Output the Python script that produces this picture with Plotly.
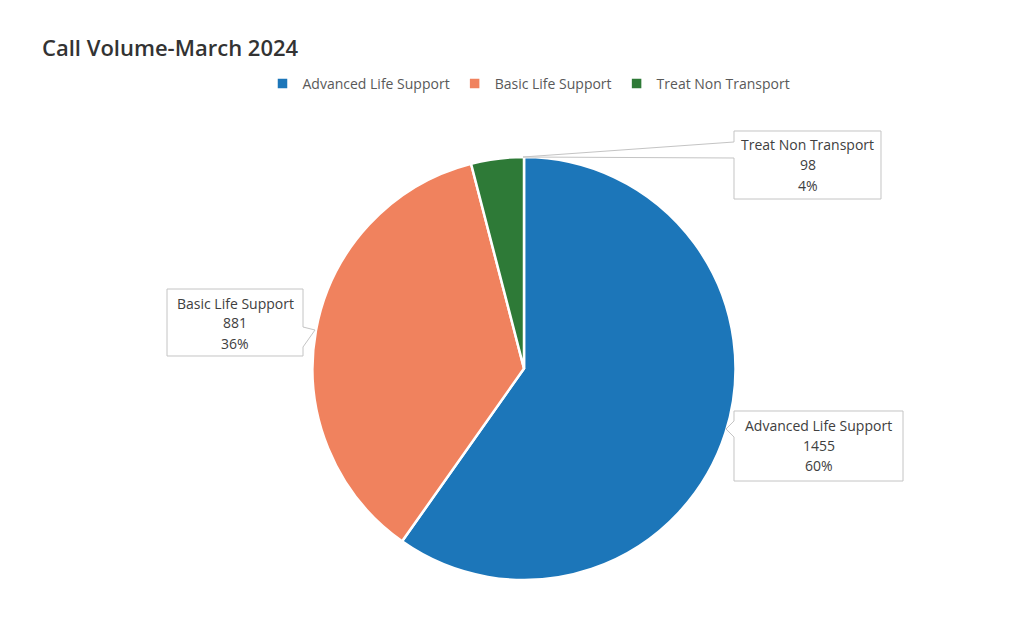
import plotly.graph_objects as go

W, H = 1031, 633
OX, OY = 8, 8  # page body margin in the browser

categories = ["Advanced Life Support", "Basic Life Support", "Treat Non Transport"]
values = [1455, 881, 98]
colors = ["#1c76b9", "#f0825e", "#2e7a37"]

title_text = "Call Volume-March 2024"

# Callout box geometry in pixels (layout only): box x0, y0, x1, y1, pointer polygon
callouts = {
    "Treat Non Transport": dict(box=(734, 131, 881, 199), ptr=[(734, 142), (523, 157), (734, 158)], side="left"),
    "Basic Life Support": dict(box=(167, 289, 303, 356), ptr=[(303, 327), (315, 330), (303, 347)], side="right"),
    "Advanced Life Support": dict(box=(734, 411, 903, 481), ptr=[(734, 421), (726, 429), (734, 437)], side="left"),
}


def px(x):
    return (x - OX) / W


def py(y):
    return 1 - (y - OY) / H


total = sum(values)
pct = [round(v / total * 100) for v in values]

fig = go.Figure(
    go.Pie(
        labels=categories,
        values=values,
        sort=False,
        direction="clockwise",
        rotation=0,
        marker=dict(colors=colors, line=dict(color="white", width=2.5)),
        textinfo="none",
        hoverinfo="skip",
        domain=dict(x=[px(524 - 211.5), px(524 + 211.5)], y=[py(580), py(157)]),
    )
)

shapes = []
annotations = []
for name, val, p in zip(categories, values, pct):
    c = callouts[name]
    x0, y0, x1, y1 = c["box"]
    a, b, d = c["ptr"]
    if c["side"] == "left":
        pts = [(x0, y0), (x1, y0), (x1, y1), (x0, y1), d, b, a]
    else:
        pts = [(x0, y0), (x1, y0), a, b, d, (x1, y1), (x0, y1)]
    path = "M " + " L ".join(f"{px(X):.5f},{py(Y):.5f}" for X, Y in pts) + " Z"
    shapes.append(dict(type="path", xref="paper", yref="paper", path=path,
                       line=dict(color="#c4c4c4", width=1), fillcolor="white", layer="above"))
    cx = (x0 + x1) / 2
    lines = [name, f"{val}", f"{p}%"]
    top = y0 + 14
    for i, t in enumerate(lines):
        annotations.append(dict(x=px(cx), y=py(top + i * 20), xref="paper", yref="paper",
                                text=t, showarrow=False, xanchor="center", yanchor="middle",
                                font=dict(family="Open Sans", size=14, color="#404040")))

fig.update_layout(
    width=W, height=H,
    margin=dict(l=0, r=0, t=0, b=0),
    paper_bgcolor="white",
    plot_bgcolor="white",
    title=dict(text=title_text, x=px(42), xref="paper", xanchor="left",
               y=py(48), yref="paper", yanchor="middle",
               font=dict(family="Open Sans", size=22, color="#333333", weight=600)),
    showlegend=True,
    legend=dict(orientation="h", x=px(529), xanchor="center", y=py(84), yanchor="middle",
                font=dict(family="Open Sans", size=14, color="#595959"),
                itemwidth=30, traceorder="normal"),
    shapes=shapes,
    annotations=annotations,
)

fig.write_html("out.html")
